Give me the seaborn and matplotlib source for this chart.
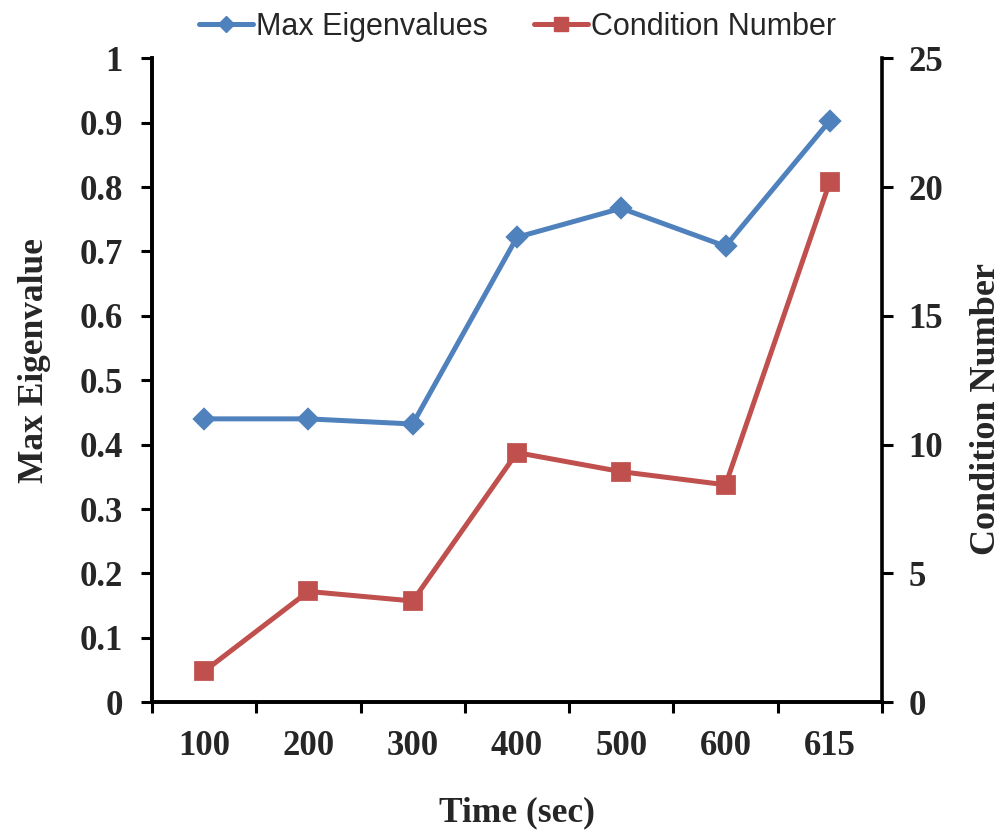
import matplotlib
matplotlib.use("Agg")
import matplotlib.pyplot as plt
from matplotlib.lines import Line2D
import seaborn as sns
import pandas as pd

# data
times = ["100", "200", "300", "400", "500", "600", "615"]
max_eigen = [0.44, 0.44, 0.432, 0.722, 0.767, 0.708, 0.903]
cond_number = [1.2, 4.3, 3.93, 9.69, 8.95, 8.44, 20.2]

BLUE = "#4F81BD"
RED = "#C0504D"

sns.set_theme(style="white")
plt.rcParams["font.family"] = ["Liberation Serif", "DejaVu Serif"]

df = pd.DataFrame({"time": times, "eig": max_eigen, "cond": cond_number})

fig = plt.figure(figsize=(10.02, 8.32), dpi=100)
ax = fig.add_axes([0.1517, 0.156, 0.7285, 0.774])
ax2 = ax.twinx()

sns.pointplot(data=df, x="time", y="eig", order=times, ax=ax, color=BLUE,
              marker="D", markersize=9, linewidth=3.6, errorbar=None)
sns.pointplot(data=df, x="time", y="cond", order=times, ax=ax2, color=RED,
              marker="s", markersize=11, linewidth=3.6, errorbar=None)

ax.set_xlim(-0.5, 6.5)
ax.set_ylim(0, 1)
ax2.set_ylim(0, 25)
ax.set_yticks([i / 10 for i in range(11)])
ax.set_yticklabels(["0", "0.1", "0.2", "0.3", "0.4", "0.5", "0.6", "0.7", "0.8", "0.9", "1"])
ax2.set_yticks(range(0, 26, 5))

# category labels in the middle, tick marks on the boundaries
ax.set_xticks([i - 0.5 for i in range(8)])
ax.set_xticklabels([])
ax.set_xticks(range(len(times)), minor=True)
ax.set_xticklabels(times, minor=True)
ax.tick_params(axis="x", which="major", direction="out", length=8, width=2.2,
               color="black", bottom=True)
ax.tick_params(axis="x", which="minor", length=0, pad=20)

for lbl in ax.get_xticklabels(minor=True) + ax.get_yticklabels() + ax2.get_yticklabels():
    lbl.set_fontsize(25)
    lbl.set_fontweight("bold")

ax.tick_params(axis="y", direction="out", length=8, width=2.2, color="black",
               left=True, pad=13)
ax2.tick_params(axis="y", direction="out", length=8, width=2.2, color="black",
                right=True, pad=11)

for a in (ax, ax2):
    a.spines["top"].set_visible(False)
    for s in ("left", "right", "bottom"):
        a.spines[s].set_linewidth(2.6)
        a.spines[s].set_color("black")
    a.grid(False)
ax.spines["right"].set_visible(False)

ax.set_xlabel("Time (sec)", fontsize=25.5, fontweight="bold")
ax.set_ylabel("Max Eigenvalue", fontsize=25.5, fontweight="bold")
ax2.set_ylabel("Condition Number", fontsize=26, fontweight="bold")
ax.xaxis.set_label_coords(0.5, -0.146)
ax.yaxis.set_label_coords(-0.1385, 0.530)
ax2.yaxis.set_label_coords(1.121, 0.456)

handles = [
    Line2D([], [], color=BLUE, marker="D", markersize=8, linewidth=3.6),
    Line2D([], [], color=RED, marker="s", markersize=10, linewidth=3.6),
]
fig.legend(handles, ["Max Eigenvalues", "Condition Number"], loc="center",
           bbox_to_anchor=(0.5165, 0.968), ncol=2, frameon=False,
           prop={"family": "Liberation Sans", "size": 22},
           handlelength=1.76, handletextpad=0.1, columnspacing=1.5,
           borderpad=0, borderaxespad=0)

fig.savefig("out.png", dpi=100)
